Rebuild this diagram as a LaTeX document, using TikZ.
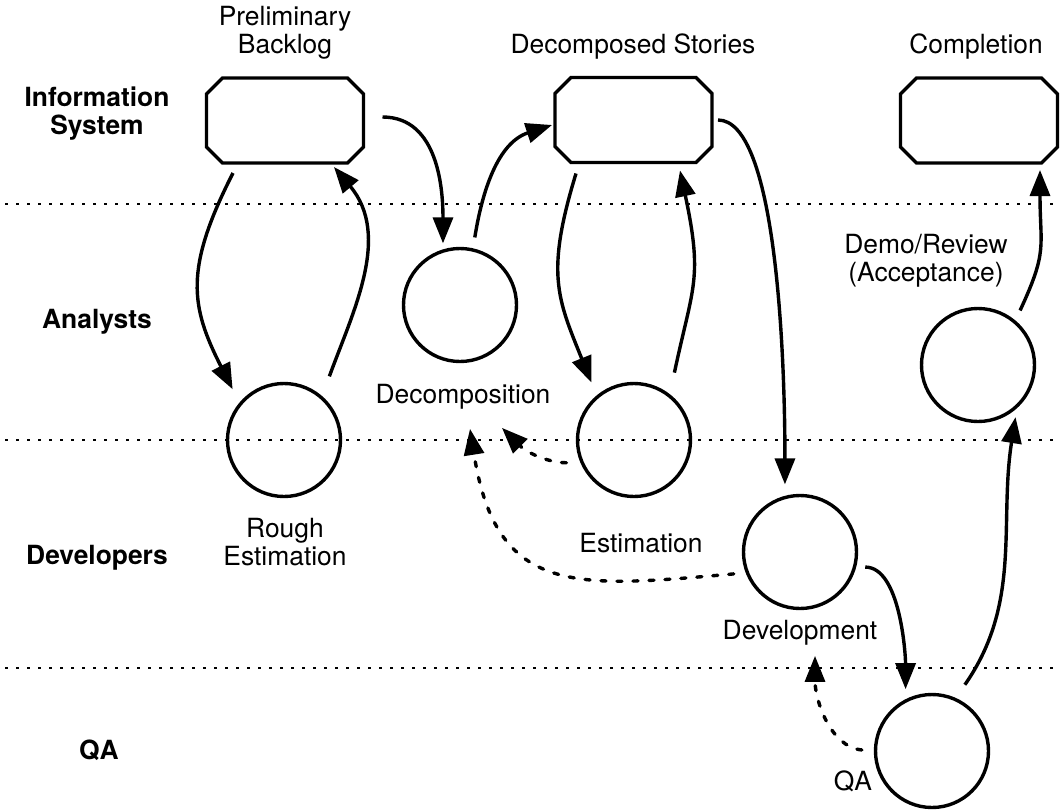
\documentclass[tikz,border=0pt]{standalone}
\usepackage{fontspec}
\setmainfont{TeX Gyre Heros}
\usetikzlibrary{arrows.meta}

\tikzset{
  every node/.style={font=\fontsize{13.2}{14}\selectfont},
  lane/.style={font=\fontsize{13.2}{14}\selectfont\bfseries, align=center, inner sep=0pt},
  txt/.style={align=center, inner sep=0pt},
  proc/.style={circle, draw, line width=1.7pt, minimum size=56.5pt, inner sep=0pt},
  store/.style={rectangle, minimum width=78.5pt, minimum height=42.5pt, inner sep=0pt, outer sep=0pt},
  boxline/.style={line width=1.7pt, line join=miter},
  flow/.style={line width=1.7pt, -{Triangle[length=13pt,width=10pt]}},
  back/.style={flow, dash pattern=on 2.5pt off 5.5pt, line cap=round},
  swim/.style={line width=1pt, dash pattern=on 1.7pt off 3.8pt}
}

\newcommand{\chambox}[1]{%
  \draw[boxline] ([xshift=8pt]#1.north west) -- ([xshift=-8pt]#1.north east)
    -- ([yshift=-8pt]#1.north east) -- ([yshift=8pt]#1.south east)
    -- ([xshift=-8pt]#1.south east) -- ([xshift=8pt]#1.south west)
    -- ([yshift=8pt]#1.south west) -- ([yshift=-8pt]#1.north west) -- cycle;}

\begin{document}
\begin{tikzpicture}[x=0.5pt,y=-0.5pt]
\useasboundingbox (0,0) rectangle (1060,809);

\foreach \y in {204,440,668}
  \draw[swim] (5,\y) -- (1060,\y);

\node[lane] (isLane) at (97,114) {Information\\System};
\node[lane] (anLane) at (97,322) {Analysts};
\node[lane] (devLane) at (97,558) {Developers};
\node[lane] (qaLane) at (99,750) {QA};

\node[store] (backlog) at (285,120.5) {};
\node[store] (stories) at (633.5,120) {};
\node[store] (done) at (979,120.5) {};
\chambox{backlog}
\chambox{stories}
\chambox{done}
\node[txt] (backlogLbl) at (285,33) {Preliminary\\Backlog};
\node[txt] (storiesLbl) at (633,47) {Decomposed Stories};
\node[txt] (doneLbl) at (976,47) {Completion};

\node[proc] (rough) at (284,440) {};
\node[proc] (decomp) at (460,305) {};
\node[proc] (estim) at (634,440) {};
\node[proc] (devel) at (800,552) {};
\node[proc] (qa) at (932,751) {};
\node[proc] (demo) at (978,365) {};

\node[txt] (roughLbl) at (285,542) {Rough\\Estimation};
\node[txt] (decLbl) at (463,397) {Decomposition};
\node[txt] (estLbl) at (641,543) {Estimation};
\node[txt] (devLbl) at (800,633) {Development};
\node[txt] (qaLbl) at (853,781) {QA};
\node[txt] (demoLbl) at (926,261) {Demo/Review\\(Acceptance)};

\draw[flow,shorten >=7.5pt] ([shift={(-52,10)}]backlog.south) to[out=243,in=117,looseness=1.2] (rough.140);
\draw[flow,shorten <=10.5pt] (rough.49) to[out=70,in=310] ([shift={(49,4)}]backlog.south);
\draw[flow,shorten >=3pt] ([shift={(19,-3.5)}]backlog.east) to[out=0,in=90] (decomp.107);
\draw[flow,shorten <=5.5pt] (decomp.77) to[out=81,in=198] ([shift={(-3,5)}]stories.west);
\draw[flow,shorten >=7pt] ([shift={(-57.5,11)}]stories.south) to[out=253,in=112,looseness=1.2] (estim.130);
\draw[flow,shorten <=11pt] (estim.52) to[out=78,in=282,looseness=1.27] ([shift={(46.5,8)}]stories.south);
\draw[flow,shorten >=5.7pt] ([shift={(6,0)}]stories.east) .. controls +(0:29pt) and +(90:72pt) .. (devel.105);
\draw[flow,shorten <=4.5pt,shorten >=5pt] (devel.-15) to[out=0,in=90,looseness=0.8] (qa.117);
\draw[flow,shorten <=8pt,shorten >=4.5pt] (qa.66) to[out=55,in=261] (demo.-48);
\draw[flow,shorten <=5.5pt] (demo.50) to[out=65,in=270,looseness=1.3] ([shift={(61,7)}]done.south);

\draw[back,shorten <=7pt] (estim.203) to[out=180,in=315] ([shift={(39,18)}]decLbl.south);
\draw[back,shorten <=6pt] (devel.201) to[out=185,in=279,looseness=1.4] ([shift={(7,19)}]decLbl.south);
\draw[back,shorten <=6pt] (qa.180) to[out=175,in=270] ([shift={(15,10)}]devLbl.south);
\end{tikzpicture}
\end{document}
